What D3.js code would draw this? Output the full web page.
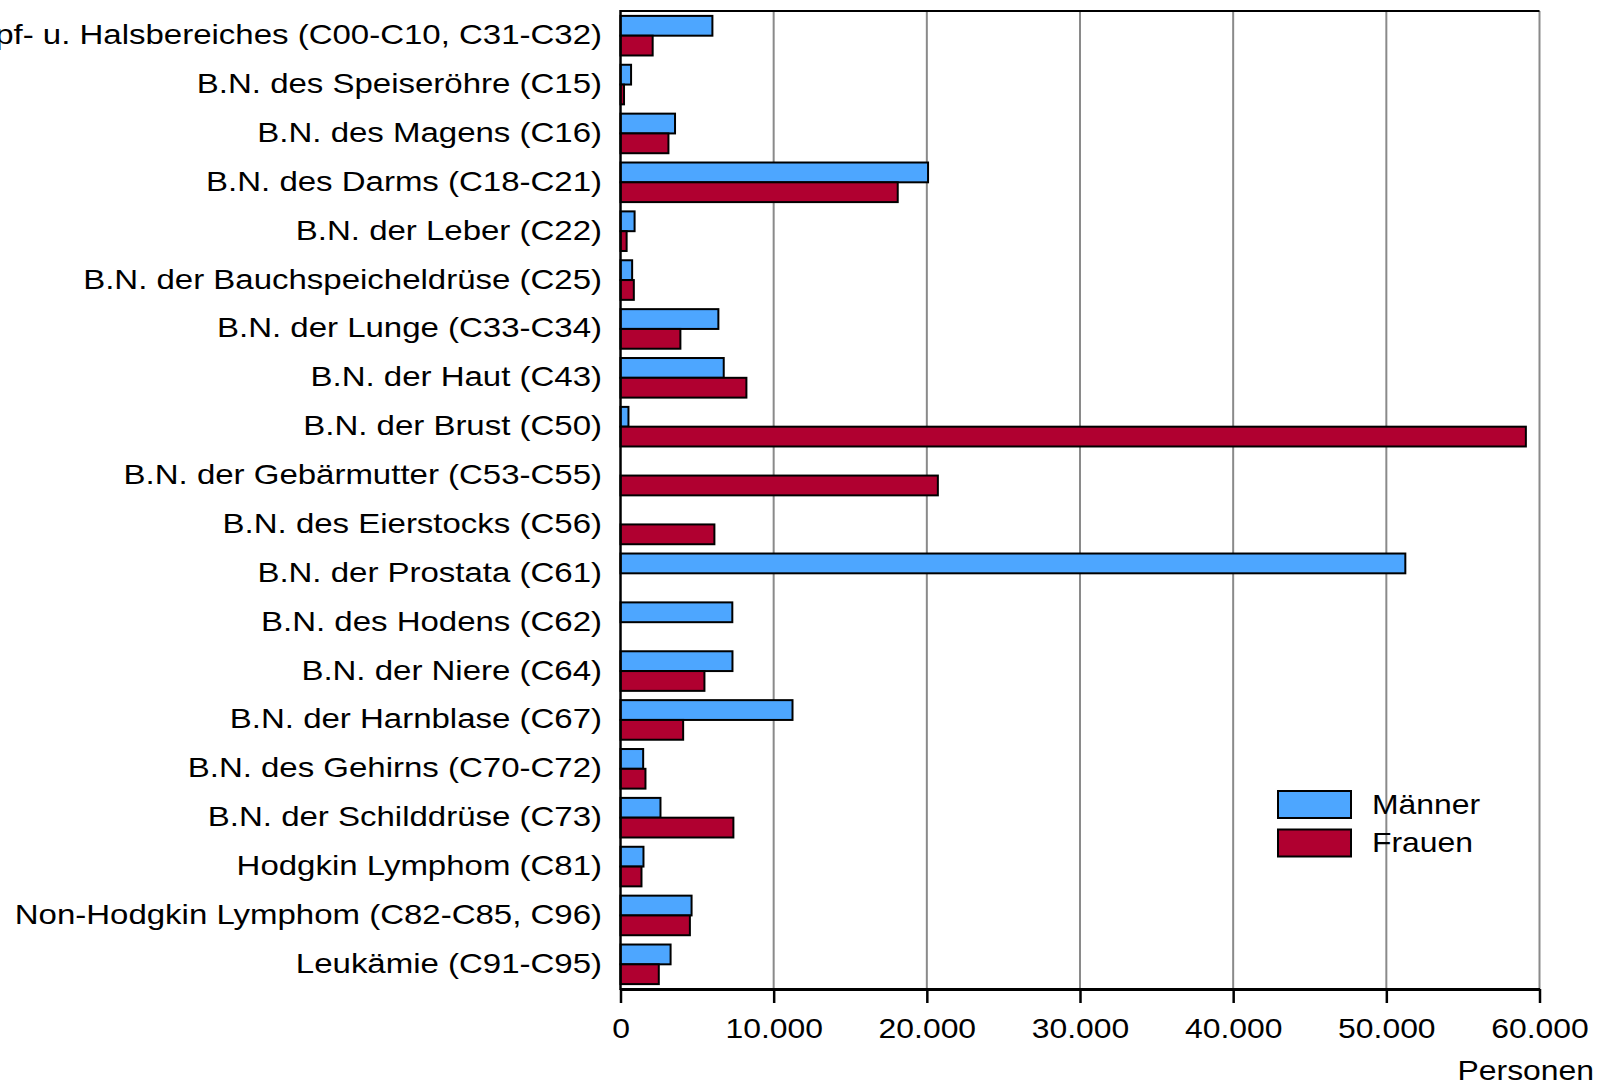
<!DOCTYPE html>
<html>
<head>
<meta charset="utf-8">
<script src="https://cdn.jsdelivr.net/npm/d3@7"></script>
<style>
  body { margin: 0; background: #fff; }
  text { font-family: "Liberation Sans", Arial, sans-serif; fill: #000; }
</style>
</head>
<body>
<div class="chart"></div>
<script>
var categories = [
  "B.N. des Kopf- u. Halsbereiches (C00-C10, C31-C32)",
  "B.N. des Speiseröhre (C15)",
  "B.N. des Magens (C16)",
  "B.N. des Darms (C18-C21)",
  "B.N. der Leber (C22)",
  "B.N. der Bauchspeicheldrüse (C25)",
  "B.N. der Lunge (C33-C34)",
  "B.N. der Haut (C43)",
  "B.N. der Brust (C50)",
  "B.N. der Gebärmutter (C53-C55)",
  "B.N. des Eierstocks (C56)",
  "B.N. der Prostata (C61)",
  "B.N. des Hodens (C62)",
  "B.N. der Niere (C64)",
  "B.N. der Harnblase (C67)",
  "B.N. des Gehirns (C70-C72)",
  "B.N. der Schilddrüse (C73)",
  "Hodgkin Lymphom (C81)",
  "Non-Hodgkin Lymphom (C82-C85, C96)",
  "Leukämie (C91-C95)"
];
var maenner = [6000, 690, 3560, 20080, 920, 760, 6390, 6740, 520, 0, 0, 51240, 7300, 7310, 11230, 1480, 2610, 1500, 4640, 3270];
var frauen  = [2100, 230, 3130, 18100, 400, 870, 3910, 8220, 59110, 20720, 6130, 0, 0, 5480, 4090, 1630, 7370, 1370, 4530, 2500];
var seriesNames = ["Männer", "Frauen"];
var xTicks = [0, 10000, 20000, 30000, 40000, 50000, 60000];
var xLabel = "Personen";

var svgWidth = 1599;
var svgHeight = 1084;
var colors = { "Männer": "#4da6ff", "Frauen": "#b00030" };
var stretch = "scale(1.16,1)";
var labelStretch = "scale(1.2,1)";
var fontSize = "27.5px";

var svg = d3.select(".chart")
  .append("svg")
  .attr("width", svgWidth)
  .attr("height", svgHeight);

var x = d3.scaleLinear().domain([0, 60000]).range([620.5, 1539.5]);
var y = d3.scaleBand().domain(categories).range([11, 989]).paddingInner(0.19).paddingOuter(0.1);
var ySub = d3.scaleBand().domain(seriesNames).range([0, y.bandwidth()]);

var de = d3.formatLocale({ decimal: ",", thousands: ".", grouping: [3], currency: ["", "€"] });

// gridlines
svg.append("g").selectAll("line")
  .data(xTicks.slice(1))
  .enter().append("line")
  .attr("x1", d => x(d)).attr("x2", d => x(d))
  .attr("y1", 11).attr("y2", 989)
  .attr("stroke", "#8a8a8a")
  .attr("stroke-width", 2);

// top border
svg.append("line")
  .attr("x1", x(0)).attr("x2", x(60000))
  .attr("y1", 11).attr("y2", 11)
  .attr("stroke", "#000").attr("stroke-width", 2);

// bars
var rows = categories.map((c, i) => ({ cat: c, values: [
  { name: "Männer", value: maenner[i] },
  { name: "Frauen", value: frauen[i] }
]}));

var groups = svg.append("g").selectAll("g")
  .data(rows)
  .enter().append("g")
  .attr("transform", d => `translate(0, ${y(d.cat)})`);

groups.selectAll("rect")
  .data(d => d.values.filter(v => v.value > 0))
  .enter().append("rect")
  .attr("x", x(0))
  .attr("y", d => ySub(d.name))
  .attr("width", d => x(d.value) - x(0))
  .attr("height", ySub.bandwidth())
  .attr("fill", d => colors[d.name])
  .attr("stroke", "#000")
  .attr("stroke-width", 2);

// left axis line
svg.append("line")
  .attr("x1", x(0)).attr("x2", x(0))
  .attr("y1", 10).attr("y2", 990)
  .attr("stroke", "#000").attr("stroke-width", 2.5);

// category labels
svg.append("g").selectAll("text")
  .data(categories)
  .enter().append("text")
  .attr("transform", d => `translate(602, ${y(d) + y.bandwidth() / 2}) ${labelStretch}`)
  .attr("text-anchor", "end")
  .attr("dy", "0.31em")
  .style("font-size", fontSize)
  .text(d => d);

// x axis
var xAxis = d3.axisBottom(x)
  .tickValues(xTicks)
  .tickFormat(de.format(",.0f"))
  .tickSize(14)
  .tickSizeOuter(0)
  .tickPadding(15);

var gx = svg.append("g")
  .attr("transform", "translate(0, 989)")
  .call(xAxis);
gx.select(".domain").attr("stroke", "#000").attr("stroke-width", 3);
gx.selectAll(".tick line").attr("stroke", "#000").attr("stroke-width", 2.5);
gx.selectAll(".tick text")
  .attr("transform", stretch)
  .style("font-size", fontSize)
  .style("font-family", "'Liberation Sans', Arial, sans-serif")
  .attr("fill", "#000");

svg.append("text")
  .attr("transform", `translate(1594, 1080) ${stretch}`)
  .attr("text-anchor", "end")
  .style("font-size", fontSize)
  .text(xLabel);

// legend
var legend = svg.append("g").selectAll("g")
  .data(seriesNames)
  .enter().append("g")
  .attr("transform", (d, i) => `translate(1278, ${791 + i * 38.5})`);

legend.append("rect")
  .attr("width", 73)
  .attr("height", 27)
  .attr("fill", d => colors[d])
  .attr("stroke", "#000")
  .attr("stroke-width", 2);

legend.append("text")
  .attr("transform", `translate(94, 13.5) ${stretch}`)
  .attr("dy", "0.33em")
  .style("font-size", fontSize)
  .text(d => d);
</script>
</body>
</html>
